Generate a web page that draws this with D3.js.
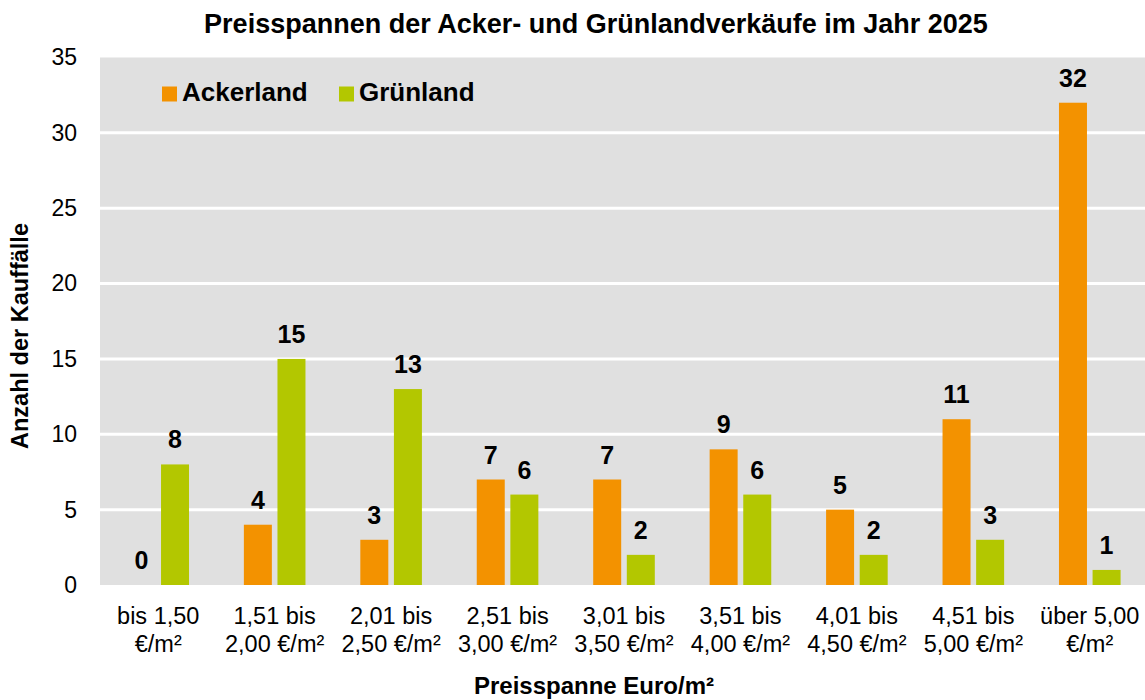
<!DOCTYPE html>
<html>
<head>
<meta charset="utf-8">
<script src="https://cdn.jsdelivr.net/npm/d3@7"></script>
<style>
  body { margin: 0; background: #ffffff; }
  text { font-family: "Liberation Sans", Arial, sans-serif; fill: #000000; }
</style>
</head>
<body>
<div id="chart"></div>
<script>
var svgWidth = 1145;
var svgHeight = 700;

// plot area in pixels
var margin = { top: 57.5, right: -3, bottom: 115, left: 100 };
var width = svgWidth - margin.left - margin.right;
var height = svgHeight - margin.top - margin.bottom;

// data
var categories = [
  ["bis 1,50", "€/m²"],
  ["1,51 bis", "2,00 €/m²"],
  ["2,01 bis", "2,50 €/m²"],
  ["2,51 bis", "3,00 €/m²"],
  ["3,01 bis", "3,50 €/m²"],
  ["3,51 bis", "4,00 €/m²"],
  ["4,01 bis", "4,50 €/m²"],
  ["4,51 bis", "5,00 €/m²"],
  ["über 5,00", "€/m²"]
];
var ackerland = [0, 4, 3, 7, 7, 9, 5, 11, 32];
var gruenland = [8, 15, 13, 6, 2, 6, 2, 3, 1];
var seriesNames = ["Ackerland", "Grünland"];
var yTicks = [0, 5, 10, 15, 20, 25, 30, 35];

var colors = { "Ackerland": "#f39200", "Grünland": "#b3c700" };

var svg = d3.select("#chart")
  .append("svg")
  .attr("width", svgWidth)
  .attr("height", svgHeight);

var chartGroup = svg.append("g")
  .attr("transform", `translate(${margin.left}, ${margin.top})`);

// scales
var x0 = d3.scaleBand()
  .domain(d3.range(categories.length))
  .range([0, width])
  .paddingInner(0.471)
  .paddingOuter(0.2355);

var x1 = d3.scaleBand()
  .domain(seriesNames)
  .range([0, x0.bandwidth()])
  .paddingInner(0.167);

var yScale = d3.scaleLinear()
  .domain([0, 35])
  .range([height, 0]);

// background
chartGroup.append("rect")
  .attr("x", 0)
  .attr("y", 0)
  .attr("width", width)
  .attr("height", height)
  .attr("fill", "#e0e0e0");

// gridlines
chartGroup.selectAll(".grid")
  .data(yTicks.filter(d => d > 0 && d < 35))
  .enter()
  .append("line")
  .attr("x1", 0)
  .attr("x2", width)
  .attr("y1", d => yScale(d))
  .attr("y2", d => yScale(d))
  .attr("stroke", "#ffffff")
  .attr("stroke-width", 3);

// y axis
var leftAxis = d3.axisLeft(yScale).tickValues(yTicks).tickSize(0).tickPadding(23);
var yAxis = chartGroup.append("g").call(leftAxis);
yAxis.select(".domain").remove();
yAxis.selectAll("text")
  .style("font-size", "23px")
  .style("font-family", "Liberation Sans, Arial, sans-serif");

// bars
var rows = categories.map((c, i) => ({ i: i, values: [
  { key: "Ackerland", value: ackerland[i] },
  { key: "Grünland", value: gruenland[i] }
] }));

var groups = chartGroup.selectAll(".group")
  .data(rows)
  .enter()
  .append("g")
  .attr("transform", d => `translate(${x0(d.i)}, 0)`);

groups.selectAll("rect")
  .data(d => d.values)
  .enter()
  .append("rect")
  .attr("x", d => x1(d.key))
  .attr("y", d => yScale(d.value))
  .attr("width", x1.bandwidth())
  .attr("height", d => height - yScale(d.value))
  .attr("fill", d => colors[d.key]);

// value labels
groups.selectAll(".val")
  .data(d => d.values)
  .enter()
  .append("text")
  .attr("x", d => x1(d.key) + x1.bandwidth() / 2)
  .attr("y", d => yScale(d.value) - 16)
  .attr("text-anchor", "middle")
  .style("font-size", "25px")
  .style("font-weight", "bold")
  .text(d => d.value);

// x tick labels (two lines)
var xLabels = chartGroup.selectAll(".xlab")
  .data(categories)
  .enter()
  .append("text")
  .attr("text-anchor", "middle")
  .style("font-size", "23.5px");

xLabels.append("tspan")
  .attr("x", (d, i) => x0(i) + x0.bandwidth() / 2)
  .attr("y", 623.5 - margin.top)
  .text(d => d[0]);

xLabels.append("tspan")
  .attr("x", (d, i) => x0(i) + x0.bandwidth() / 2)
  .attr("y", 652 - margin.top)
  .text(d => d[1]);

// legend
var legend = chartGroup.selectAll(".legend")
  .data(seriesNames)
  .enter()
  .append("g")
  .attr("transform", (d, i) => `translate(${62 + i * 177}, ${29})`);

legend.append("rect")
  .attr("width", 15)
  .attr("height", 15)
  .attr("fill", d => colors[d]);

legend.append("text")
  .attr("x", 20)
  .attr("y", 14)
  .style("font-size", "26px")
  .style("font-weight", "bold")
  .text(d => d);

// title
svg.append("text")
  .attr("x", 596)
  .attr("y", 33)
  .attr("text-anchor", "middle")
  .style("font-size", "27px")
  .style("font-weight", "bold")
  .text("Preisspannen der Acker- und Grünlandverkäufe im Jahr 2025");

// axis titles
svg.append("text")
  .attr("x", 594)
  .attr("y", 694)
  .attr("text-anchor", "middle")
  .style("font-size", "24px")
  .style("font-weight", "bold")
  .text("Preisspanne Euro/m²");

svg.append("text")
  .attr("transform", "rotate(-90)")
  .attr("x", -336)
  .attr("y", 28)
  .attr("text-anchor", "middle")
  .style("font-size", "23.5px")
  .style("font-weight", "bold")
  .text("Anzahl der Kauffälle");
</script>
</body>
</html>
